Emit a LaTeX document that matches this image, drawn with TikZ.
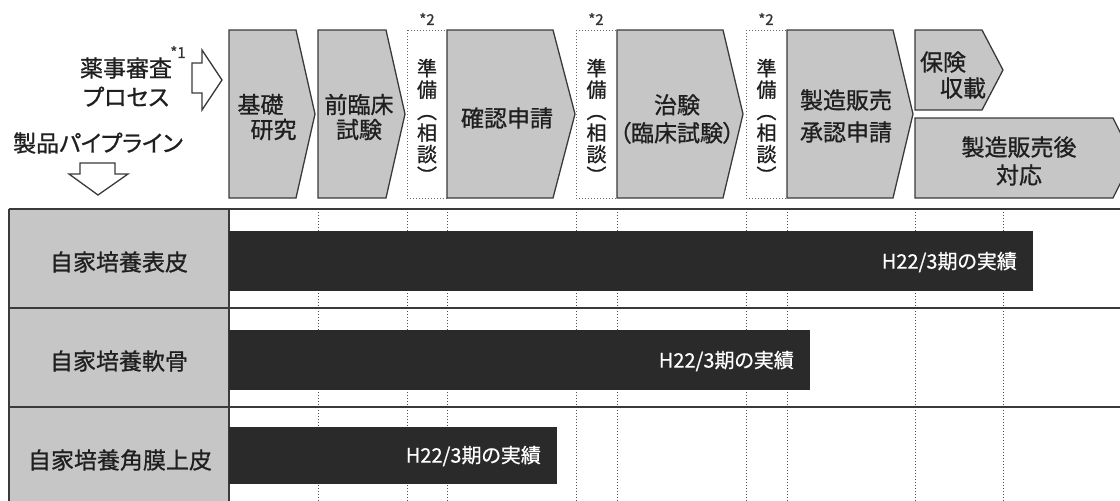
\documentclass[tikz,border=0pt]{standalone}
\usepackage{fontspec}
\newfontfamily\jp[RawFeature=+palt, FakeBold=0.9]{Noto Sans CJK JP}
\newfontfamily\jpbar[RawFeature=+palt, FakeBold=0.6]{Noto Sans CJK JP}
\definecolor{shapegray}{HTML}{C6C6C6}
\definecolor{bardark}{HTML}{2A2A2A}
\definecolor{edge}{HTML}{3A3A3A}
\begin{document}
\begin{tikzpicture}[x=1pt,y=-1pt,
  stage/.style={draw=edge, line width=1.3pt, fill=shapegray, line join=miter},
  prep/.style={draw=black!60, dotted, line width=1pt, fill=white},
  openarrow/.style={draw=edge, line width=1.3pt, fill=white},
  big/.style={font=\jp\fontsize{23}{26}\selectfont, inner sep=0pt, text=black!88},
  vtext/.style={font=\jp\fontsize{20}{21.5}\selectfont, inner sep=0pt, align=center, text=black!88},
  note/.style={font=\jp\fontsize{15}{16}\selectfont, inner sep=0pt, text=black!80},
  bartext/.style={font=\jpbar\fontsize{20}{22}\selectfont, inner sep=0pt, text=white, anchor=east},
  tline/.style={draw=edge, line width=1.5pt},
  vgrid/.style={draw=black!70, dotted, line width=1pt},
  bar/.style={fill=bardark, draw=none}]
\useasboundingbox (0,0) rectangle (1120,501);

% ---- left header texts and open arrows
\node[big, align=center] (yakuji) at (126,82) {薬事審査\\[3pt]プロセス};
\node[note] (yakujisup) at (178,52) {*1};
\node[big] (seihin) at (98,143) {製品パイプライン};
\draw[openarrow] (192,63) -- (202,63) -- (202,50) -- (222,80) -- (202,110) -- (202,93) -- (192,93) -- cycle;
\draw[openarrow] (80,163) -- (115,163) -- (115,174) -- (128,174) -- (98,195) -- (69,174) -- (80,174) -- cycle;

% ---- process stages
\draw[stage] (229,30) -- (296,30) -- (315,114) -- (296,198) -- (229,198) -- cycle;
\draw[stage] (318,30) -- (386,30) -- (405,114) -- (386,198) -- (318,198) -- cycle;
\draw[prep] (407,30) rectangle (447,198);
\draw[stage] (447,30) -- (553,30) -- (575,114) -- (553,198) -- (447,198) -- cycle;
\draw[prep] (576,30) rectangle (617,198);
\draw[stage] (617,30) -- (723,30) -- (743,114) -- (723,198) -- (617,198) -- cycle;
\draw[prep] (746,30) rectangle (787,198);
\draw[stage] (787,30) -- (893,30) -- (913,114) -- (893,198) -- (787,198) -- cycle;
\draw[stage] (915,30) -- (982,30) -- (1003,70) -- (982,110) -- (915,110) -- cycle;
\draw[stage] (915,118) -- (1113,118) -- (1133,158) -- (1113,198) -- (915,198) -- cycle;

\node[big, align=left] (kiso) at (267,117) {基礎\\[-1pt]\hspace*{13pt}研究};
\node[big, align=center] (zenrin) at (359,117) {前臨床\\[-1pt]試験};
\node[big] (kakunin) at (507,118) {確認申請};
\node[big, align=center] (chiken) at (677,119) {治験\\[2pt]（臨床試験）};
\node[big, align=center] (seizo) at (846,116) {製造販売\\[6pt]承認申請};
\node[big, align=left] (hoken) at (953,75) {保険\\[0pt]\hspace*{20pt}収載};
\node[big, align=center] (kougo) at (1019,161) {製造販売後\\[2pt]対応};

\node[vtext] (prep1) at (427,121) {準\\備\\︵\\相\\談\\︶};
\node[vtext] (prep2) at (596.5,121) {準\\備\\︵\\相\\談\\︶};
\node[vtext] (prep3) at (766.5,121) {準\\備\\︵\\相\\談\\︶};
\node[note] (star1) at (427,19) {*2};
\node[note] (star2) at (596,19) {*2};
\node[note] (star3) at (766,19) {*2};

% ---- pipeline table
\fill[shapegray] (9,209) rectangle (229,510);
\foreach \x in {318,407,447,576,617,746,787,915,1003}
  \draw[vgrid] (\x,209) -- (\x,501);
\draw[tline] (9,209) -- (1120,209);
\draw[tline] (9,308) -- (1120,308);
\draw[tline] (9,407) -- (1120,407);
\draw[tline] (9,209) -- (9,510);
\draw[tline] (229,209) -- (229,510);

\fill[bar] (229,231) rectangle (1033,291);
\fill[bar] (229,330) rectangle (810,390);
\fill[bar] (229,427) rectangle (557,484);

\node[big] (row1) at (119,262) {自家培養表皮};
\node[big] (row2) at (119,361) {自家培養軟骨};
\node[big] (row3) at (120,460) {自家培養角膜上皮};

\node[bartext] (res1) at (1017,262) {H22/3期の実績};
\node[bartext] (res2) at (794,361) {H22/3期の実績};
\node[bartext] (res3) at (541,456) {H22/3期の実績};
\end{tikzpicture}
\end{document}
